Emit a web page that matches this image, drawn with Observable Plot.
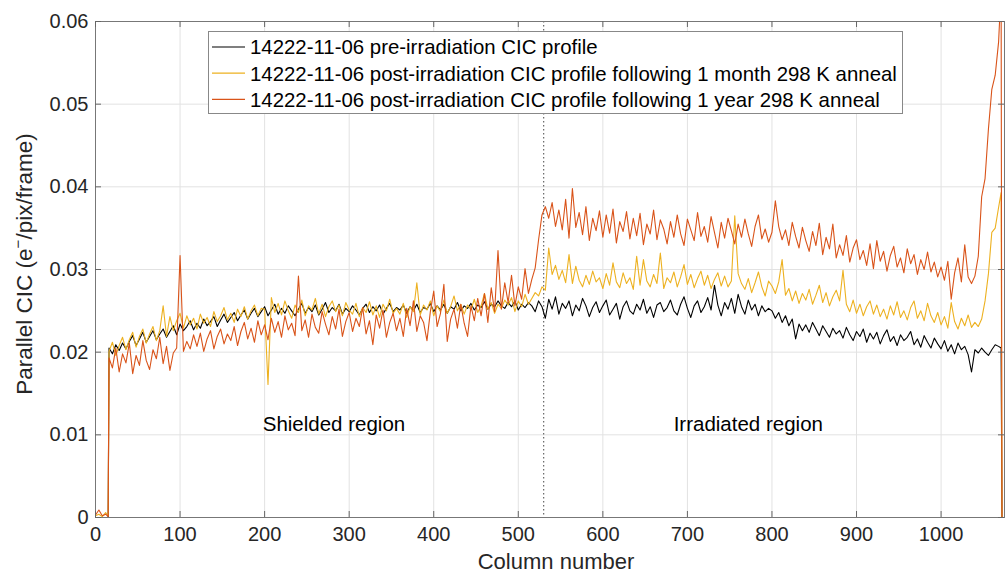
<!DOCTYPE html>
<html><head><meta charset="utf-8">
<script src="https://cdn.jsdelivr.net/npm/d3@7"></script>
<script src="https://cdn.jsdelivr.net/npm/@observablehq/plot@0.6"></script>
<style>
html,body{margin:0;padding:0;background:#fff;}
#chart{width:1006px;height:574px;}
</style></head><body><div id="chart"></div>
<script>
// Column numbers sampled (every 4 columns, plus the readout edges)
const columns = [0, 4, 8, 12, 15, ...d3.range(16, 1072, 4), 1071, 1072, 1075];

const preIrradiation = [
0, 0, 0, 0, 0,
0.0205, 0.0198, 0.0209, 0.0202, 0.0211, 0.0204,
0.0213, 0.0220, 0.0208, 0.0216, 0.0224, 0.0212, 0.0219, 0.0226, 0.0215, 0.0222,
0.0228, 0.0218, 0.0225, 0.0232, 0.0221, 0.0234, 0.0226, 0.0231, 0.0238, 0.0227,
0.0235, 0.0229, 0.0240, 0.0232, 0.0237, 0.0243, 0.0231, 0.0239, 0.0246, 0.0236,
0.0242, 0.0248, 0.0238, 0.0245, 0.0251, 0.0240, 0.0247, 0.0253, 0.0243, 0.0249,
0.0255, 0.0244, 0.0251, 0.0258, 0.0246, 0.0253, 0.0247, 0.0256, 0.0250, 0.0244,
0.0252, 0.0259, 0.0247, 0.0254, 0.0249, 0.0257, 0.0245, 0.0252, 0.0260, 0.0248,
0.0254, 0.0250, 0.0258, 0.0246, 0.0253, 0.0249, 0.0256, 0.0251, 0.0245, 0.0253,
0.0258, 0.0248, 0.0255, 0.0250, 0.0257, 0.0246, 0.0253, 0.0259, 0.0249, 0.0254,
0.0251, 0.0257, 0.0247, 0.0255, 0.0250, 0.0258, 0.0248, 0.0254, 0.0252, 0.0259,
0.0249, 0.0256, 0.0251, 0.0258, 0.0247, 0.0255, 0.0252, 0.0260, 0.0250, 0.0256,
0.0253, 0.0259, 0.0251, 0.0257, 0.0254, 0.0261, 0.0252, 0.0258, 0.0255, 0.0262,
0.0256, 0.0253, 0.0260, 0.0255, 0.0262, 0.0251, 0.0258, 0.0254, 0.0260, 0.0256,
0.0249, 0.0262, 0.0255, 0.0241, 0.0264, 0.0252, 0.0267, 0.0246, 0.0259, 0.0253,
0.0262, 0.0244, 0.0257, 0.0250, 0.0265, 0.0256, 0.0243, 0.0254, 0.0261, 0.0248,
0.0256, 0.0263, 0.0245, 0.0252, 0.0259, 0.0240, 0.0255, 0.0262, 0.0250, 0.0246,
0.0258, 0.0251, 0.0264, 0.0247, 0.0255, 0.0242, 0.0257, 0.0260, 0.0249, 0.0254,
0.0263, 0.0250, 0.0245, 0.0258, 0.0267, 0.0253, 0.0242, 0.0256, 0.0262, 0.0248,
0.0255, 0.0266, 0.0251, 0.0281, 0.0257, 0.0244, 0.0260, 0.0252, 0.0265, 0.0247,
0.0270, 0.0255, 0.0246, 0.0263, 0.0251, 0.0258, 0.0244, 0.0256, 0.0249, 0.0253,
0.0250, 0.0241, 0.0248, 0.0236, 0.0244, 0.0232, 0.0240, 0.0216, 0.0234, 0.0226,
0.0233, 0.0224, 0.0236, 0.0228, 0.0220, 0.0232, 0.0225, 0.0218, 0.0229, 0.0222,
0.0226, 0.0217, 0.0230, 0.0221, 0.0214, 0.0225, 0.0219, 0.0228, 0.0212, 0.0223,
0.0216, 0.0224, 0.0210, 0.0220, 0.0227, 0.0213, 0.0219, 0.0208, 0.0221, 0.0214,
0.0218, 0.0225, 0.0209, 0.0216, 0.0206, 0.0220, 0.0212, 0.0205, 0.0217, 0.0210,
0.0204, 0.0214, 0.0201, 0.0209, 0.0198, 0.0211, 0.0203, 0.0207, 0.0197, 0.0176,
0.0203, 0.0199, 0.0205, 0.0200, 0.0196, 0.0203, 0.0209, 0.0207,
0.0205, 0, 0
];

const postMonth = [
0.0002, 0.0004, 0.0001, 0.0006, 0.0002,
0.0201, 0.0212, 0.0196, 0.0208, 0.0218, 0.0203,
0.0215, 0.0224, 0.0206, 0.0219, 0.0228, 0.0211, 0.0222, 0.0231, 0.0214, 0.0226,
0.0256, 0.0219, 0.0243, 0.0226, 0.0238, 0.0247, 0.0229, 0.0244, 0.0233, 0.0241,
0.0228, 0.0246, 0.0235, 0.0242, 0.0231, 0.0249, 0.0237, 0.0244, 0.0254, 0.0239,
0.0247, 0.0236, 0.0252, 0.0243, 0.0255, 0.0240, 0.0250, 0.0257, 0.0244, 0.0253,
0.0252, 0.0161, 0.0266, 0.0248, 0.0259, 0.0245, 0.0262, 0.0250, 0.0241, 0.0257,
0.0248, 0.0263, 0.0244, 0.0256, 0.0251, 0.0265, 0.0246, 0.0258, 0.0243, 0.0255,
0.0262, 0.0249, 0.0257, 0.0244, 0.0260, 0.0251, 0.0246, 0.0259, 0.0243, 0.0254,
0.0248, 0.0261, 0.0245, 0.0256, 0.0242, 0.0258, 0.0250, 0.0264, 0.0247, 0.0253,
0.0246, 0.0259, 0.0242, 0.0255, 0.0249, 0.0284, 0.0245, 0.0257, 0.0251, 0.0262,
0.0244, 0.0256, 0.0249, 0.0263, 0.0247, 0.0255, 0.0268, 0.0250, 0.0258, 0.0246,
0.0257, 0.0251, 0.0264, 0.0248, 0.0256, 0.0271, 0.0252, 0.0260, 0.0247, 0.0258,
0.0253, 0.0263, 0.0257, 0.0266, 0.0249, 0.0262, 0.0255, 0.0270, 0.0258, 0.0265,
0.0272, 0.0268, 0.0279, 0.0275, 0.0326, 0.0294, 0.0305, 0.0288, 0.0299, 0.0284,
0.0318, 0.0283, 0.0304, 0.0287, 0.0279, 0.0293, 0.0282, 0.0298, 0.0285, 0.0290,
0.0277, 0.0295, 0.0281, 0.0308, 0.0285, 0.0278, 0.0296, 0.0283, 0.0290, 0.0276,
0.0316, 0.0281, 0.0312, 0.0286, 0.0279, 0.0294, 0.0283, 0.0320, 0.0277, 0.0290,
0.0284, 0.0297, 0.0279, 0.0291, 0.0306, 0.0282, 0.0294, 0.0278, 0.0289, 0.0298,
0.0281, 0.0293, 0.0277, 0.0288, 0.0296, 0.0280, 0.0292, 0.0279, 0.0286, 0.0365,
0.0295, 0.0283, 0.0276, 0.0289, 0.0272, 0.0284, 0.0297, 0.0279, 0.0268, 0.0286,
0.0280, 0.0271, 0.0285, 0.0312, 0.0269, 0.0277, 0.0262, 0.0274, 0.0259, 0.0271,
0.0263, 0.0276, 0.0258, 0.0269, 0.0281, 0.0260, 0.0272, 0.0256, 0.0267, 0.0275,
0.0262, 0.0299, 0.0258, 0.0249, 0.0263, 0.0247, 0.0258, 0.0244, 0.0255, 0.0262,
0.0246, 0.0257, 0.0243, 0.0252, 0.0240, 0.0256, 0.0245, 0.0261, 0.0242, 0.0250,
0.0239, 0.0254, 0.0262, 0.0241, 0.0250, 0.0238, 0.0259, 0.0244, 0.0236, 0.0248,
0.0233, 0.0243, 0.0229, 0.0260, 0.0237, 0.0228, 0.0241, 0.0232, 0.0245, 0.0230,
0.0236, 0.0231, 0.0240, 0.0262, 0.0295, 0.0345, 0.0350, 0.0375,
0.0393, 0, 0
];

const postYear = [
0.0003, 0.0009, 0.0002, 0.0004, 0.0001,
0.0193, 0.0181, 0.0205, 0.0176, 0.0198, 0.0187,
0.0211, 0.0174, 0.0196, 0.0184, 0.0214, 0.0190, 0.0179, 0.0203, 0.0192, 0.0218,
0.0186, 0.0207, 0.0178, 0.0199, 0.0205, 0.0317, 0.0201, 0.0213, 0.0204, 0.0221,
0.0207, 0.0223, 0.0201, 0.0216, 0.0226, 0.0204, 0.0219, 0.0228, 0.0210, 0.0222,
0.0214, 0.0231, 0.0208, 0.0225, 0.0236, 0.0216, 0.0229, 0.0212, 0.0238, 0.0221,
0.0233, 0.0215, 0.0241, 0.0224, 0.0237, 0.0218, 0.0244, 0.0227, 0.0235, 0.0220,
0.0292, 0.0226, 0.0239, 0.0218, 0.0246, 0.0230, 0.0223, 0.0249, 0.0234, 0.0221,
0.0243, 0.0228, 0.0252, 0.0219, 0.0237, 0.0248, 0.0225, 0.0241, 0.0231, 0.0254,
0.0222, 0.0238, 0.0209, 0.0245, 0.0229, 0.0251, 0.0218, 0.0236, 0.0247, 0.0226,
0.0241, 0.0219, 0.0253, 0.0232, 0.0262, 0.0225, 0.0244, 0.0236, 0.0214, 0.0249,
0.0274, 0.0231, 0.0247, 0.0282, 0.0213, 0.0240, 0.0252, 0.0229, 0.0258, 0.0235,
0.0219, 0.0256, 0.0238, 0.0265, 0.0244, 0.0271, 0.0236, 0.0278, 0.0249, 0.0323,
0.0252, 0.0284, 0.0260, 0.0293, 0.0256, 0.0279, 0.0264, 0.0301, 0.0271, 0.0288,
0.0302, 0.0336, 0.0366, 0.0376, 0.0362, 0.0381, 0.0352, 0.0372, 0.0348, 0.0385,
0.0338, 0.0398, 0.0351, 0.0369, 0.0342, 0.0376, 0.0335, 0.0362, 0.0347, 0.0371,
0.0339, 0.0366, 0.0344, 0.0373, 0.0332, 0.0358, 0.0346, 0.0370, 0.0337, 0.0362,
0.0341, 0.0368, 0.0330, 0.0355, 0.0343, 0.0372, 0.0336, 0.0360, 0.0349, 0.0331,
0.0358, 0.0339, 0.0366, 0.0343, 0.0329, 0.0361, 0.0348, 0.0335, 0.0369, 0.0340,
0.0352, 0.0333, 0.0364, 0.0345, 0.0326, 0.0357, 0.0338, 0.0362, 0.0347, 0.0331,
0.0355, 0.0339, 0.0361, 0.0343, 0.0328, 0.0352, 0.0366, 0.0337, 0.0349, 0.0333,
0.0345, 0.0383, 0.0352, 0.0336, 0.0348, 0.0329, 0.0357, 0.0340, 0.0326, 0.0351,
0.0335, 0.0322, 0.0346, 0.0329, 0.0356, 0.0318, 0.0339, 0.0325, 0.0355, 0.0314,
0.0330, 0.0317, 0.0341, 0.0309, 0.0326, 0.0336, 0.0312, 0.0323, 0.0305, 0.0331,
0.0301, 0.0335, 0.0310, 0.0322, 0.0298, 0.0317, 0.0328, 0.0303, 0.0314, 0.0296,
0.0325, 0.0307, 0.0318, 0.0294, 0.0312, 0.0300, 0.0321, 0.0297, 0.0309, 0.0291,
0.0303, 0.0287, 0.0310, 0.0264, 0.0296, 0.0314, 0.0285, 0.0330, 0.0291, 0.0283,
0.0292, 0.0316, 0.0388, 0.0410, 0.0470, 0.0518, 0.0535, 0.0575,
0.0640, 0, 0
];

const seriesNames = [
  "14222-11-06 pre-irradiation CIC profile",
  "14222-11-06 post-irradiation CIC profile following 1 month 298 K anneal",
  "14222-11-06 post-irradiation CIC profile following 1 year 298 K anneal"
];
const seriesColors = ["#000000", "#EDB120", "#D95319"];
const xTicks = [0, 100, 200, 300, 400, 500, 600, 700, 800, 900, 1000];
const yTicks = [0, 0.01, 0.02, 0.03, 0.04, 0.05, 0.06];
const boundaryColumn = [530];
const regionLabels = ["Shielded region", "Irradiated region"];
const regionColumns = [282, 772];
const regionLevel = 0.01125;

const allSeries = [preIrradiation, postMonth, postYear];
allSeries.forEach((s, k) => {
  if (s.length !== columns.length) throw new Error("length mismatch series " + k + ": " + s.length + " vs " + columns.length);
});
const rows = allSeries.map((s, k) => columns.map((c, i) => ({col: c, v: s[i], k})));
const regions = regionLabels.map((t, i) => ({t, x: regionColumns[i], y: regionLevel}));

const W = 1006, H = 574;
const mL = 95, mR = 2, mT = 21, mB = 57;
const innerW = W - mL - mR, innerH = H - mT - mB;

const chart = Plot.plot({
  width: W, height: H,
  marginLeft: mL, marginRight: mR, marginTop: mT, marginBottom: mB,
  style: {fontFamily: "'Liberation Sans', Arial, sans-serif", fontSize: "20px", color: "#262626", background: "#fff"},
  x: {domain: [0, 1075], label: null},
  y: {domain: [0, 0.06], label: null},
  marks: [
    Plot.gridX(xTicks, {stroke: "#e2e2e2", strokeOpacity: 1}),
    Plot.gridY(yTicks, {stroke: "#e2e2e2", strokeOpacity: 1}),
    Plot.ruleX(boundaryColumn, {stroke: "#666", strokeWidth: 1.2, strokeDasharray: "1.5,2.5"}),
    ...rows.map((r, k) => Plot.line(r, {x: "col", y: "v", stroke: seriesColors[k], strokeWidth: 1.1, clip: true})),
    Plot.text(regions, {x: "x", y: "y", text: "t", fontSize: 20.5, fill: "#000"}),
    Plot.frame({stroke: "#777", strokeWidth: 1}),
    Plot.tickX(xTicks, {x: d => d, insetTop: innerH - 6, stroke: "#666"}),
    Plot.tickX(xTicks, {x: d => d, insetBottom: innerH - 6, stroke: "#666"}),
    Plot.tickY(yTicks, {y: d => d, insetRight: innerW - 6, stroke: "#666"}),
    Plot.tickY(yTicks, {y: d => d, insetLeft: innerW - 6, stroke: "#666"}),
    Plot.axisX({ticks: xTicks, tickSize: 0, tickPadding: 9, label: null, fontSize: 20,
      tickFormat: d => String(d)}),
    Plot.axisY({ticks: yTicks, tickSize: 0, tickPadding: 7, label: null, fontSize: 20,
      tickFormat: d => d === 0 ? "0" : d.toFixed(2)})
  ]
});
document.getElementById("chart").appendChild(chart);

const svg = d3.select(chart);
const font = "'Liberation Sans', Arial, sans-serif";
// axis titles
svg.append("text").attr("x", 556).attr("y", 569).attr("text-anchor", "middle")
  .attr("font-family", font).attr("font-size", 22).attr("fill", "#262626").text("Column number");
const yl = svg.append("text").attr("transform", "translate(32,264) rotate(-90)").attr("text-anchor", "middle")
  .attr("font-family", font).attr("font-size", 22.5).attr("fill", "#262626");
yl.append("tspan").text("Parallel CIC (e");
yl.append("tspan").attr("dy", -9).attr("font-size", 15).text("\u2212");
yl.append("tspan").attr("dy", 9).text("/pix/frame)");

// legend
const lg = svg.append("g").attr("text-anchor", "start");
lg.append("rect").attr("x", 208.5).attr("y", 31.5).attr("width", 694).attr("height", 82)
  .attr("fill", "#fff").attr("stroke", "#888").attr("stroke-width", 1);
seriesNames.forEach((n, i) => {
  const yy = 47 + i * 26.2;
  lg.append("line").attr("x1", 212).attr("x2", 245).attr("y1", yy).attr("y2", yy)
    .attr("stroke", seriesColors[i]).attr("stroke-width", 1.2);
  lg.append("text").attr("x", 250).attr("y", yy).attr("dy", "0.36em").attr("text-anchor", "start")
    .attr("font-family", font).attr("font-size", 20.4).attr("fill", "#000").text(n);
});
</script>
</body></html>
